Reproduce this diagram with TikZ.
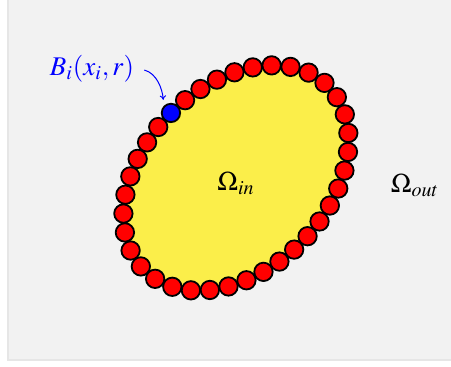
\documentclass[tikz,border=0pt]{standalone}
\usepackage{mathptmx}
\usetikzlibrary{arrows.meta, decorations.markings}
\definecolor{cpanel}{HTML}{F2F2F2}
\definecolor{cedge}{HTML}{E6E6E6}
\definecolor{cyellow}{HTML}{FBEE4A}
\tikzset{
  every picture/.style={x=0.5pt, y=0.5pt},
  panel/.style={fill=cpanel, draw=cedge, line width=1pt},
  bead/.style={circle, draw=black, fill=#1, line width=0.9pt, minimum size=9.2pt, inner sep=0pt},
  bead/.default=red,
  lbl/.style={font=\fontsize{13.5}{16}\selectfont, inner sep=3pt},
  pointer/.style={-{To[length=2.2pt, width=3.2pt]}, draw=blue, line width=0.5pt},
}

\begin{document}
\begin{tikzpicture}
  \useasboundingbox (0,0) rectangle (451,367);
  \draw[panel] (7.5,6.5) rectangle (470,380);
  % domain with a ring of 37 balls, the first one marked
  \begin{scope}[shift={(236,189)}, rotate=45]
    \coordinate (bstart) at (0,92);
    \path[fill=cyellow, postaction={decorate, decoration={markings,
        mark=between positions 1/37 and 0.99 step 1/37 with {
          \node[bead] (r\pgfkeysvalueof{/pgf/decoration/mark info/sequence number}) {};}}}]
      (bstart) arc[start angle=90, end angle=450, x radius=130, y radius=92];
  \end{scope}
  \node[bead=blue] (bi) at (bstart) {};
  \node[lbl, text=blue] (blbl) at (92,298) {$B_i(x_i,r)$};
  \node[lbl] (oin) at (236,184) {$\Omega_{in}$};
  \node[lbl] (oout) at (415,182) {$\Omega_{out}$};
  \draw[pointer, shorten <=2pt, shorten >=3pt] (blbl.east) to[out=-15, in=95] (bi.north west);
\end{tikzpicture}
\end{document}
